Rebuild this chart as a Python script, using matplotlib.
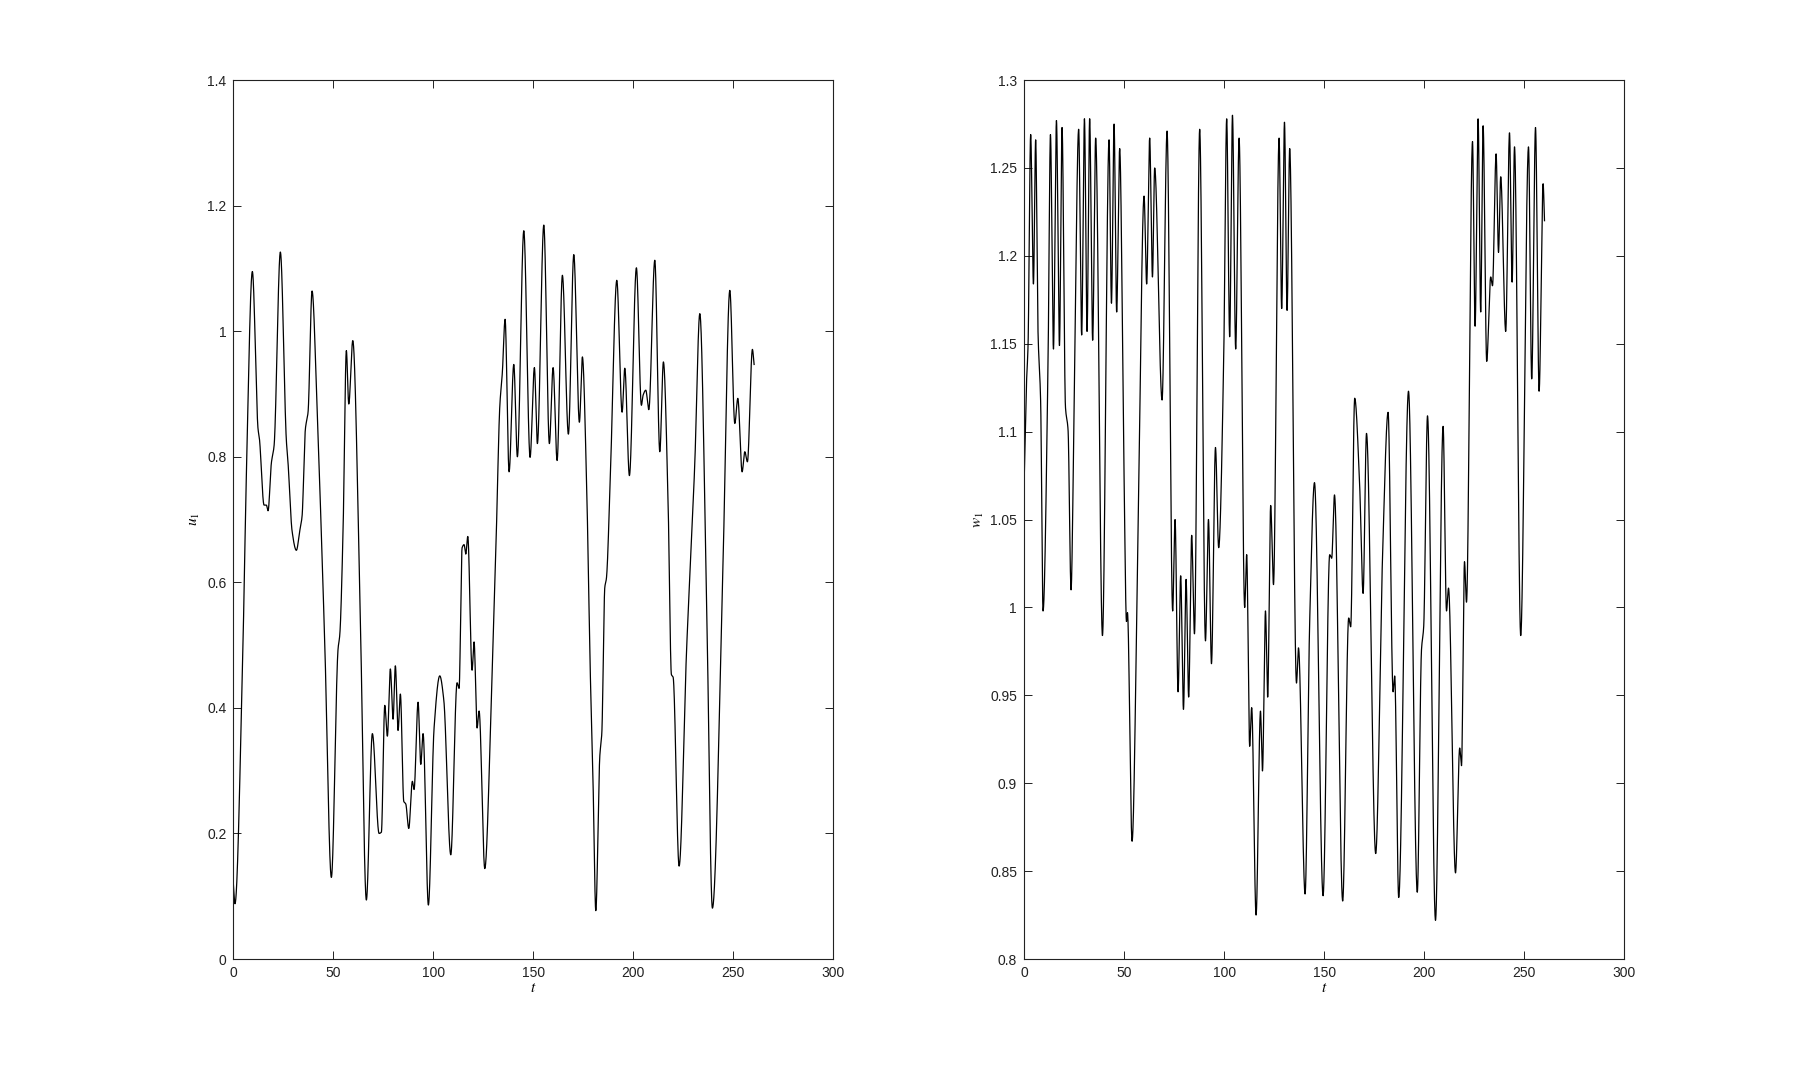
import numpy as np
import matplotlib
matplotlib.use("Agg")
import matplotlib.pyplot as plt

plt.rcParams['font.family'] = ['Liberation Sans', 'DejaVu Sans']
plt.rcParams['mathtext.fontset'] = 'stix'

# ---- left panel: u_1(t), read extrema / shape points ----
u_t = [0, 0.8, 4.8, 6.5, 9.5, 12.35, 13, 15.35, 16.5, 17.35, 19, 20.35, 23.5, 26.5, 27.35,
       29.35, 31.5, 33.2, 34.35, 36, 37.35, 39.35, 42, 45.7, 49, 52.35, 53.2, 54.85, 56.5,
       57.7, 59.7, 63.2, 66.5, 69.5, 72.85, 74, 75.7, 77, 78.5, 79.85, 81, 82.35, 83.5,
       85.2, 86.2, 87.7, 89.5, 90.35, 92.35, 93.7, 94.85, 97.5, 100.35, 103.2, 105.2,
       108.7, 111.85, 112.85, 114.35, 115.35, 116.2, 117.2, 119.35, 120.35, 121.85,
       122.85, 125.7, 129, 131.5, 133.2, 134.5, 135.85, 137.85, 140.2, 142, 145.2, 148.35,
       150.5, 152, 155.2, 158, 159.85, 161.85, 164.5, 167.5, 170.2, 173, 174.5, 176.5,
       178.5, 179.85, 181.2, 183.2, 184.2, 185.7, 186.5, 188.5, 191.7, 194.35, 195.7, 198,
       201.5, 204, 204.85, 206.2, 207.7, 210.7, 213.2, 215, 217.35, 219, 219.85, 222.85,
       226.5, 230.7, 233.2, 236.5, 239.5, 244.85, 248.2, 250.7, 252.2, 254.35, 255.7, 257,
       259.5, 260.35]
u_val = [0.12, 0.088, 0.50, 0.77, 1.095, 0.844, 0.83, 0.723, 0.723, 0.714, 0.79, 0.817, 1.126,
         0.826, 0.79, 0.682, 0.651, 0.682, 0.705, 0.844, 0.871, 1.064, 0.862, 0.503, 0.13,
         0.494, 0.516, 0.682, 0.969, 0.884, 0.985, 0.592, 0.094, 0.359, 0.20, 0.202, 0.404,
         0.355, 0.462, 0.382, 0.467, 0.364, 0.422, 0.251, 0.247, 0.208, 0.283, 0.27, 0.409,
         0.31, 0.359, 0.086, 0.368, 0.451, 0.413, 0.166, 0.44, 0.431, 0.655, 0.66, 0.645,
         0.673, 0.46, 0.505, 0.368, 0.395, 0.144, 0.413, 0.682, 0.88, 0.935, 1.019, 0.776,
         0.947, 0.80, 1.16, 0.799, 0.942, 0.821, 1.169, 0.821, 0.942, 0.794, 1.089, 0.836,
         1.122, 0.855, 0.959, 0.772, 0.449, 0.278, 0.077, 0.323, 0.359, 0.592, 0.606, 0.772,
         1.081, 0.871, 0.941, 0.77, 1.101, 0.882, 0.898, 0.906, 0.875, 1.113, 0.808, 0.951,
         0.727, 0.453, 0.449, 0.148, 0.485, 0.79, 1.028, 0.592, 0.081, 0.637, 1.065, 0.853,
         0.893, 0.776, 0.808, 0.792, 0.971, 0.947]

# ---- right panel: w_1(t) ----
w_t = [0, 1.2, 2, 3.3, 4.7, 5.8, 7, 8.3, 9.5, 12, 13.2, 14.7, 16.2, 17.7, 19, 20.7, 22, 23.5,
       24.8, 27.3, 28.8, 30.2, 31.5, 32.8, 34.3, 35.8, 39.2, 42.5, 43.7, 45, 46.3, 47.8, 50,
       51.2, 51.7, 54, 57, 60, 61.3, 62.8, 64.2, 65.3, 69, 71.5, 74.3, 75.5, 77, 78.3, 79.7,
       81, 82.3, 83.8, 85.2, 87.8, 90.7, 92.2, 93.7, 95.7, 97.3, 99.8, 101.3, 102.8, 104.2,
       105.8, 107.5, 110.3, 111.3, 112.8, 113.8, 116, 118.2, 119.2, 120.7, 121.8, 123.3,
       124.7, 127.5, 128.8, 130.2, 131.5, 132.8, 136.2, 137.2, 140.5, 142.8, 145.2, 149.5,
       152.8, 153.8, 155.2, 159.3, 162.3, 163.3, 165.3, 167.8, 169.5, 171.2, 175.8, 179.2,
       182, 184.5, 185.3, 187.3, 192.2, 196.6, 198.7, 199.8, 201.7, 205.7, 209.5, 211.2,
       212.2, 215.7, 217.8, 218.7, 220.2, 221.2, 224.2, 225.5, 227, 228.3, 229.5, 231.3,
       233.3, 234.2, 236, 237.2, 238.3, 240.8, 242.7, 244, 245.2, 248.3, 252.2, 253.8,
       255.7, 257.5, 259.5, 260.2]
w_val = [1.069, 1.127, 1.149, 1.269, 1.184, 1.266, 1.156, 1.117, 0.998, 1.14, 1.269, 1.147,
         1.277, 1.149, 1.273, 1.114, 1.101, 1.01, 1.091, 1.272, 1.155, 1.278, 1.157, 1.278,
         1.152, 1.267, 0.984, 1.266, 1.173, 1.275, 1.168, 1.261, 1.075, 0.992, 0.997, 0.867,
         1.043, 1.234, 1.184, 1.267, 1.188, 1.25, 1.118, 1.271, 0.998, 1.05, 0.952, 1.018,
         0.942, 1.016, 0.949, 1.041, 0.985, 1.272, 0.981, 1.05, 0.968, 1.091, 1.034, 1.14,
         1.278, 1.154, 1.28, 1.147, 1.267, 1.0, 1.03, 0.921, 0.943, 0.825, 0.941, 0.907,
         0.998, 0.949, 1.058, 1.013, 1.267, 1.17, 1.276, 1.169, 1.261, 0.957, 0.977, 0.837,
         0.992, 1.071, 0.836, 1.03, 1.028, 1.064, 0.833, 0.994, 0.989, 1.119, 1.069, 1.008,
         1.099, 0.86, 1.028, 1.111, 0.952, 0.961, 0.835, 1.123, 0.838, 0.976, 0.989, 1.109,
         0.822, 1.103, 0.998, 1.011, 0.849, 0.92, 0.91, 1.026, 1.003, 1.265, 1.16, 1.278,
         1.168, 1.274, 1.14, 1.188, 1.183, 1.258, 1.202, 1.245, 1.157, 1.27, 1.185, 1.262,
         0.984, 1.262, 1.13, 1.273, 1.123, 1.241, 1.22]

x_ticks = [0, 50, 100, 150, 200, 250, 300]
u_ticks = [0, 0.2, 0.4, 0.6, 0.8, 1, 1.2, 1.4]
w_ticks = [0.8, 0.85, 0.9, 0.95, 1, 1.05, 1.1, 1.15, 1.2, 1.25, 1.3]


def smooth_curve(x, y, n=6000):
    """Monotone cubic (PCHIP) rendering through the read points."""
    x = np.asarray(x, float)
    y = np.asarray(y, float)
    h = np.diff(x)
    d = np.diff(y) / h
    m = np.zeros_like(y)
    m[0], m[-1] = d[0], d[-1]
    for k in range(1, len(x) - 1):
        if d[k - 1] * d[k] <= 0:
            m[k] = 0.0
        else:
            w1 = 2 * h[k] + h[k - 1]
            w2 = h[k] + 2 * h[k - 1]
            m[k] = (w1 + w2) / (w1 / d[k - 1] + w2 / d[k])
    xn = np.linspace(x[0], x[-1], n)
    idx = np.clip(np.searchsorted(x, xn) - 1, 0, len(x) - 2)
    hh = h[idx]
    s = (xn - x[idx]) / hh
    h00 = 2 * s**3 - 3 * s**2 + 1
    h10 = s**3 - 2 * s**2 + s
    h01 = -2 * s**3 + 3 * s**2
    h11 = s**3 - s**2
    yn = h00 * y[idx] + h10 * hh * m[idx] + h01 * y[idx + 1] + h11 * hh * m[idx + 1]
    return xn, yn


fig = plt.figure(figsize=(17.95, 10.79), dpi=100)
ax1 = fig.add_axes([0.130, 0.1112, 0.3343, 0.8146])
ax2 = fig.add_axes([0.5705, 0.1112, 0.3343, 0.8146])

for ax, tt, vv, yt, ylim, lab, lx in [
        (ax1, u_t, u_val, u_ticks, (0, 1.4), r'$u_1$', -0.052),
        (ax2, w_t, w_val, w_ticks, (0.8, 1.3), r'$w_1$', -0.063)]:
    xs, ys = smooth_curve(tt, vv)
    ax.plot(xs, ys, color='black', lw=0.9)
    ax.set_xlim(0, 300)
    ax.set_ylim(*ylim)
    ax.set_xticks(x_ticks)
    ax.set_yticks(yt)
    ax.set_yticklabels([('%g' % v) for v in yt])
    ax.tick_params(direction='in', top=True, right=True, length=6, width=0.7,
                   labelsize=10, colors='#222222', pad=5)
    for sp in ax.spines.values():
        sp.set_linewidth(0.8)
        sp.set_color('#222222')
    ax.set_xlabel(r'$t$', fontsize=11)
    ax.set_ylabel(lab, fontsize=11)
    ax.xaxis.set_label_coords(0.5, -0.025)
    ax.yaxis.set_label_coords(lx, 0.5)

fig.savefig('out.png', dpi=100)
